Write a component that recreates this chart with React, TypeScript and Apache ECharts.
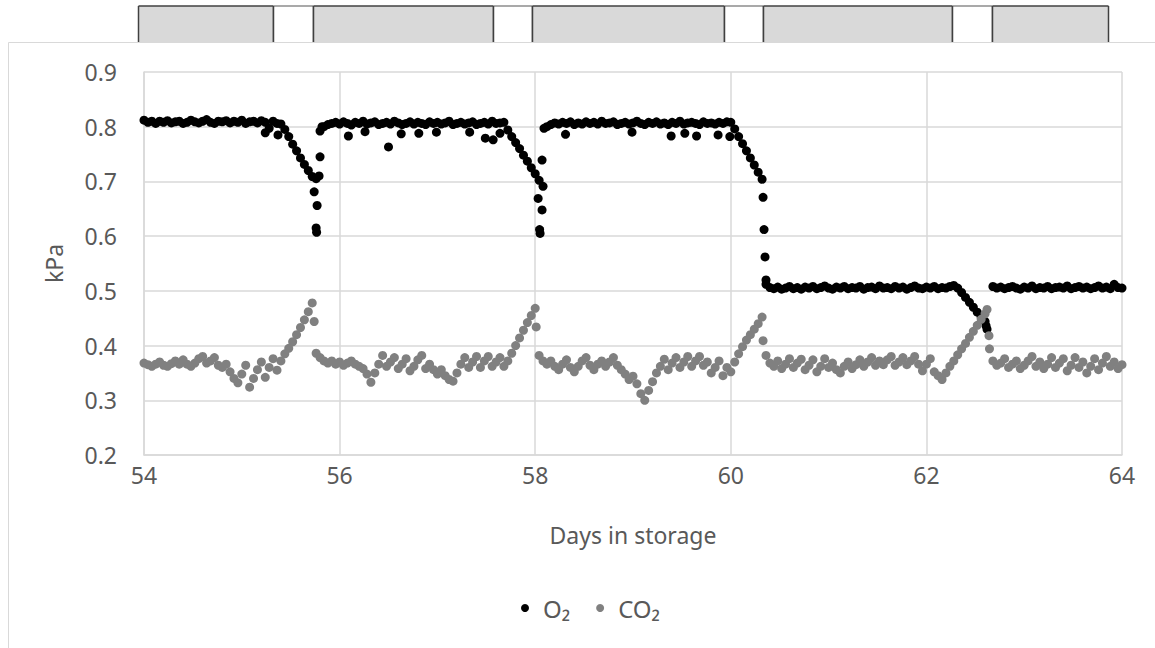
import React, { useEffect, useRef } from "react";
import * as echarts from "echarts";

// Sampling of the logged series (days in storage)
const SAMPLE_START = 54;
const SAMPLE_STEP = 0.04;

// O2 partial pressure (kPa), one value per sample
const O2: (number | null)[] = [
  0.812, 0.808, 0.81, 0.806, 0.81, 0.808, 0.811, 0.807, 0.809, 0.81,
  0.806, 0.808, 0.812, 0.809, 0.807, 0.81, 0.813, 0.808, 0.806, 0.81,
  0.809, 0.811, 0.807, 0.81, 0.808, 0.812, 0.806, 0.809, 0.81, 0.807,
  0.811, 0.808, 0.797, 0.81, 0.806, 0.805, 0.795, 0.782, 0.768, 0.756,
  0.743, 0.731, 0.72, 0.709, 0.705, 0.792, 0.8, 0.804, 0.806, 0.808,
  0.805, 0.809, 0.806, 0.803, 0.808, 0.806, 0.81, 0.805, 0.807, 0.809,
  0.804, 0.806, 0.808, 0.805, 0.81, 0.807, 0.804, 0.806, 0.809, 0.805,
  0.808, 0.806, 0.804, 0.809, 0.806, 0.808, 0.805, 0.807, 0.81, 0.804,
  0.806, 0.808, 0.805, 0.807, 0.809, 0.804, 0.806, 0.808, 0.805, 0.81,
  0.806, 0.807, 0.808, 0.794, 0.782, 0.771, 0.76, 0.748, 0.737, 0.725,
  0.714, 0.702, 0.691, 0.8, 0.804, 0.807, 0.805, 0.808, 0.806, 0.809,
  0.804, 0.807, 0.805, 0.809, 0.806, 0.808, 0.805, 0.81, 0.806, 0.807,
  0.809, 0.804, 0.806, 0.808, 0.805, 0.807, 0.81, 0.806, 0.804, 0.808,
  0.806, 0.809, 0.805, 0.807, 0.804, 0.808, 0.806, 0.81, 0.805, 0.807,
  0.808, 0.806, 0.804, 0.809, 0.806, 0.807, 0.805, 0.808, 0.806, 0.809,
  0.808, 0.796, 0.782, 0.769, 0.756, 0.743, 0.73, 0.717, 0.704, 0.512,
  0.506, 0.504, 0.507, 0.503, 0.505, 0.508, 0.504, 0.506, 0.503, 0.507,
  0.505, 0.508, 0.504, 0.506, 0.509, 0.505, 0.503, 0.507, 0.505, 0.508,
  0.504, 0.506, 0.505, 0.508, 0.503, 0.506, 0.507, 0.504, 0.509, 0.505,
  0.506, 0.504, 0.508, 0.505, 0.507, 0.503, 0.506, 0.509, 0.505, 0.504,
  0.507, 0.505, 0.508, 0.504, 0.506, 0.505, 0.508, 0.51, 0.505, 0.497,
  0.488, 0.479, 0.47, 0.461, 0.452, 0.444, null, 0.508, 0.505, 0.507,
  0.504, 0.506, 0.508, 0.505, 0.503, 0.507, 0.505, 0.509, 0.504, 0.506,
  0.505, 0.508, 0.504, 0.506, 0.507, 0.505, 0.509, 0.504, 0.506, 0.508,
  0.505, 0.507, 0.504, 0.506, 0.509, 0.505, 0.507, 0.504, 0.512, 0.506,
  0.505,
];

// CO2 partial pressure (kPa), one value per sample
const CO2: (number | null)[] = [
  0.368, 0.365, 0.362, 0.366, 0.37, 0.364, 0.362, 0.367, 0.372, 0.366,
  0.374, 0.366, 0.362, 0.368, 0.376, 0.38, 0.368, 0.372, 0.378, 0.364,
  0.36, 0.366, 0.352, 0.34, 0.332, 0.348, 0.364, 0.324, 0.34, 0.356,
  0.37, 0.342, 0.36, 0.376, 0.355, 0.372, 0.385, 0.395, 0.407, 0.42,
  0.433, 0.447, 0.462, 0.478, 0.386, 0.378, 0.372, 0.368, 0.372, 0.366,
  0.37, 0.364, 0.368, 0.372, 0.366, 0.362, 0.358, 0.348, 0.333, 0.35,
  0.366, 0.382, 0.362, 0.37, 0.378, 0.358, 0.366, 0.376, 0.354, 0.362,
  0.374, 0.382, 0.358, 0.366, 0.356, 0.348, 0.356, 0.345, 0.338, 0.335,
  0.35, 0.366, 0.378, 0.36, 0.37, 0.38, 0.36, 0.372, 0.38, 0.362,
  0.37, 0.378, 0.362, 0.372, 0.386, 0.4, 0.414, 0.428, 0.442, 0.455,
  0.468, 0.382, 0.372, 0.366, 0.372, 0.362, 0.356, 0.366, 0.374, 0.36,
  0.352, 0.362, 0.372, 0.378, 0.364, 0.356, 0.366, 0.372, 0.362, 0.37,
  0.378, 0.364, 0.356, 0.348, 0.338, 0.344, 0.33, 0.312, 0.3, 0.318,
  0.334, 0.35, 0.362, 0.375, 0.356, 0.368, 0.378, 0.36, 0.37, 0.38,
  0.362, 0.372, 0.38, 0.364, 0.37, 0.35, 0.36, 0.372, 0.345, 0.36,
  0.352, 0.37, 0.385, 0.398, 0.41, 0.42, 0.43, 0.44, 0.452, 0.382,
  0.368, 0.362, 0.372, 0.358, 0.366, 0.376, 0.36, 0.368, 0.375, 0.356,
  0.364, 0.374, 0.352, 0.362, 0.376, 0.36, 0.368, 0.356, 0.35, 0.362,
  0.37, 0.358, 0.365, 0.374, 0.362, 0.37, 0.378, 0.364, 0.372, 0.365,
  0.374, 0.38, 0.364, 0.37, 0.378, 0.365, 0.372, 0.38, 0.366, 0.354,
  0.366, 0.376, 0.352, 0.345, 0.338, 0.35, 0.362, 0.372, 0.383, 0.394,
  0.404, 0.415, 0.426, 0.437, 0.448, 0.458, null, 0.372, 0.364, 0.368,
  0.376, 0.36, 0.366, 0.372, 0.358, 0.364, 0.372, 0.38, 0.362, 0.37,
  0.358, 0.366, 0.378, 0.36, 0.368, 0.376, 0.354, 0.364, 0.378, 0.36,
  0.37, 0.35, 0.362, 0.376, 0.356, 0.368, 0.38, 0.362, 0.37, 0.358,
  0.365,
];

// Off-trend readings [day, kPa]
const O2_EXTRA: [number, number][] = [
  [55.24, 0.789], [55.37, 0.785], [55.74, 0.681], [55.77, 0.656], [55.76, 0.615],
  [55.765, 0.607], [55.8, 0.745], [55.79, 0.71], [55.82, 0.8],
  [56.09, 0.783], [56.26, 0.791], [56.5, 0.763], [56.63, 0.787], [56.81, 0.788],
  [56.99, 0.79], [57.33, 0.79], [57.49, 0.779], [57.57, 0.776], [57.64, 0.788],
  [58.03, 0.669], [58.07, 0.648], [58.05, 0.605], [58.045, 0.612], [58.07, 0.739],
  [58.09, 0.797], [58.31, 0.786], [58.99, 0.79], [59.39, 0.783], [59.53, 0.788],
  [59.65, 0.783], [59.87, 0.785], [59.99, 0.782],
  [60.33, 0.671], [60.34, 0.612], [60.35, 0.562], [60.36, 0.52],
  [62.61, 0.436], [62.62, 0.43],
];
const CO2_EXTRA: [number, number][] = [
  [55.74, 0.444], [58.01, 0.434], [60.33, 0.409], [62.62, 0.466], [62.64, 0.418], [62.645, 0.394],
];

// Atmosphere-control periods shown above the plot: boundaries and whether each is an "open" (white) period
const PERIOD_BOUNDS = [53.94, 55.32, 55.73, 57.57, 57.97, 59.93, 60.33, 62.26, 62.67, 63.86];
const PERIOD_OPEN = [0, 1, 0, 1, 0, 1, 0, 1, 0];

const X_MIN = 54, X_MAX = 64, X_STEP = 2;
const Y_MIN = 0.2, Y_MAX = 0.9, Y_STEP = 0.1;

const FONT = "Noto Sans";
const TEXT = "#595959";
const GRID = "#d9d9d9";

function toPoints(values: (number | null)[], extra: [number, number][]) {
  const pts: [number, number][] = [];
  values.forEach((v, i) => {
    if (v !== null) pts.push([SAMPLE_START + i * SAMPLE_STEP, v]);
  });
  return pts.concat(extra);
}

export default function App() {
  const ref = useRef<HTMLDivElement>(null);
  useEffect(() => {
    if (!ref.current) return;
    const chart = echarts.init(ref.current, undefined, { renderer: "svg" });
    const periods = PERIOD_OPEN.map((o, i) => [PERIOD_BOUNDS[i], PERIOD_BOUNDS[i + 1], o]);
    chart.setOption({
      animation: false,
      backgroundColor: "#ffffff",
      textStyle: { fontFamily: FONT },
      graphic: [
        {
          type: "rect",
          z: -10,
          shape: { x: 8.5, y: 42.5, width: 1200, height: 700 },
          style: { fill: "none", stroke: GRID, lineWidth: 1 },
        },
      ],
      grid: [
        { left: 144, right: 33, top: 72, bottom: 193, containLabel: false },
        { left: 144, right: 33, top: 6, height: 36, containLabel: false },
      ],
      xAxis: [
        {
          type: "value",
          min: X_MIN,
          max: X_MAX,
          interval: X_STEP,
          name: "Days in storage",
          nameLocation: "middle",
          nameGap: 68,
          nameTextStyle: { color: TEXT, fontSize: 23, fontFamily: FONT },
          axisLine: { show: true, lineStyle: { color: GRID, width: 1.5 } },
          axisTick: { show: false },
          axisLabel: { color: TEXT, fontSize: 23, fontFamily: FONT, margin: 8 },
          splitLine: { show: true, lineStyle: { color: GRID, width: 1.5 } },
        },
        { type: "value", gridIndex: 1, min: X_MIN, max: X_MAX, show: false },
      ],
      yAxis: [
        {
          type: "value",
          min: Y_MIN,
          max: Y_MAX,
          interval: Y_STEP,
          name: "kPa",
          nameLocation: "middle",
          nameGap: 79,
          nameTextStyle: { color: TEXT, fontSize: 23, fontFamily: FONT },
          axisLine: { show: true, lineStyle: { color: GRID, width: 1.5 } },
          axisTick: { show: false },
          axisLabel: {
            color: TEXT,
            fontSize: 23,
            fontFamily: FONT,
            margin: 27,
            formatter: (v: number) => v.toFixed(1),
          },
          splitLine: { show: true, lineStyle: { color: GRID, width: 1.5 } },
        },
        { type: "value", gridIndex: 1, min: 0, max: 1, show: false },
      ],
      legend: {
        data: [
          { name: "O₂", icon: "circle" },
          { name: "CO₂", icon: "circle" },
        ],
        left: 516,
        top: 591,
        itemWidth: 8,
        itemHeight: 8,
        itemGap: 26,
        textStyle: { color: TEXT, fontSize: 24, fontFamily: FONT, padding: [0, 0, 0, 9] },
      },
      series: [
        {
          name: "O₂",
          type: "scatter",
          symbol: "circle",
          symbolSize: 9,
          itemStyle: { color: "#000000", opacity: 1 },
          data: toPoints(O2, O2_EXTRA),
        },
        {
          name: "CO₂",
          type: "scatter",
          symbol: "circle",
          symbolSize: 9,
          itemStyle: { color: "#808080", opacity: 1 },
          data: toPoints(CO2, CO2_EXTRA),
        },
        {
          type: "custom",
          xAxisIndex: 1,
          yAxisIndex: 1,
          silent: true,
          data: periods,
          renderItem: (_params: any, api: any) => {
            const open = api.value(2) === 1;
            const p0 = api.coord([api.value(0), 1]);
            const p1 = api.coord([api.value(1), 0]);
            const x0 = Math.round(p0[0]) + 0.5;
            const x1 = Math.round(p1[0]) + 0.5;
            const y0 = p0[1];
            const y1 = p1[1];
            return {
              type: "group",
              children: [
                {
                  type: "rect",
                  shape: { x: x0, y: y0, width: x1 - x0, height: y1 - y0 },
                  style: { fill: open ? "#ffffff" : "#d9d9d9" },
                },
                {
                  type: "line",
                  shape: { x1: x0, y1: y0, x2: x1, y2: y0 },
                  style: { stroke: open ? "#8c8c8c" : "#404040", lineWidth: 1.5 },
                },
                {
                  type: "line",
                  shape: { x1: x0, y1: y0, x2: x0, y2: y1 },
                  style: { stroke: "#404040", lineWidth: 1.5 },
                },
                {
                  type: "line",
                  shape: { x1: x1, y1: y0, x2: x1, y2: y1 },
                  style: { stroke: "#404040", lineWidth: 1.5 },
                },
              ],
            };
          },
        },
      ],
    });
    return () => chart.dispose();
  }, []);
  return (
    <div
      ref={ref}
      style={{ position: "absolute", left: 0, top: 0, width: 1155, height: 648 }}
    />
  );
}
